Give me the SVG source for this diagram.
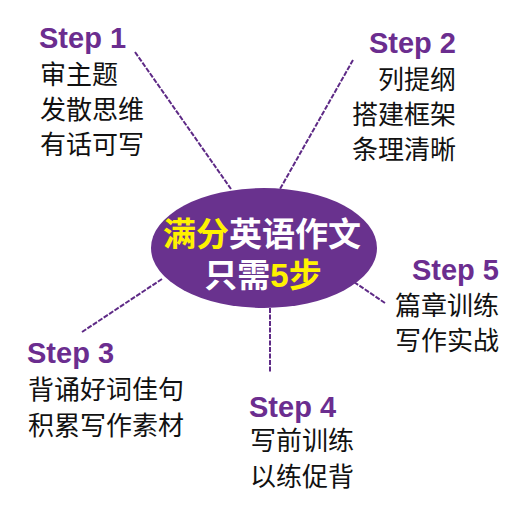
<svg xmlns="http://www.w3.org/2000/svg" width="520" height="520" viewBox="0 0 520 520">
<style>
.step{font-family:"Liberation Sans",Arial,sans-serif;font-weight:bold;font-size:29px;fill:#6b2d8f}
.body{font-family:"Noto Sans CJK SC","Noto Sans",sans-serif;font-size:26px;fill:#111}
.center{font-family:"Noto Sans CJK SC","Liberation Sans",sans-serif;font-weight:bold;font-size:33px;fill:#fff}
.hl{fill:#fff200}
.link{stroke:#5e2a86;stroke-width:2;stroke-dasharray:5 1.5;fill:none}
</style>
<rect width="520" height="520" fill="#fff"/>
<g id="connectors">
<line class="link" x1="135" y1="52" x2="231" y2="189"/>
<line class="link" x1="353" y1="60" x2="280" y2="189"/>
<line class="link" x1="82" y1="332" x2="162" y2="279"/>
<line class="link" x1="270" y1="308" x2="270" y2="373"/>
<line class="link" x1="354" y1="282" x2="385" y2="303"/>
</g>
<g id="center">
<ellipse cx="264" cy="248" rx="113" ry="60" fill="#69328e"/>
<text class="center" text-anchor="middle"><tspan x="262" y="246"><tspan class="hl">满分</tspan>英语作文</tspan><tspan x="263" y="287">只需<tspan class="hl" font-family="Liberation Sans,Arial,sans-serif">5</tspan><tspan class="hl">步</tspan></tspan></text>
</g>
<g id="step1">
<text class="step" x="39" y="48">Step 1</text>
<text class="body" x="40" y="84">审主题</text>
<text class="body" x="40" y="119">发散思维</text>
<text class="body" x="40" y="154">有话可写</text>
</g>
<g id="step2" text-anchor="end">
<text class="step" x="456" y="53">Step 2</text>
<text class="body" x="456" y="89">列提纲</text>
<text class="body" x="456" y="124">搭建框架</text>
<text class="body" x="456" y="159">条理清晰</text>
</g>
<g id="step3">
<text class="step" x="27" y="363">Step 3</text>
<text class="body" x="28" y="399">背诵好词佳句</text>
<text class="body" x="28" y="435">积累写作素材</text>
</g>
<g id="step4">
<text class="step" x="249" y="417">Step 4</text>
<text class="body" x="250" y="450">写前训练</text>
<text class="body" x="250" y="486">以练促背</text>
</g>
<g id="step5" text-anchor="end">
<text class="step" x="499" y="280">Step 5</text>
<text class="body" x="499" y="315">篇章训练</text>
<text class="body" x="499" y="350">写作实战</text>
</g>
</svg>
